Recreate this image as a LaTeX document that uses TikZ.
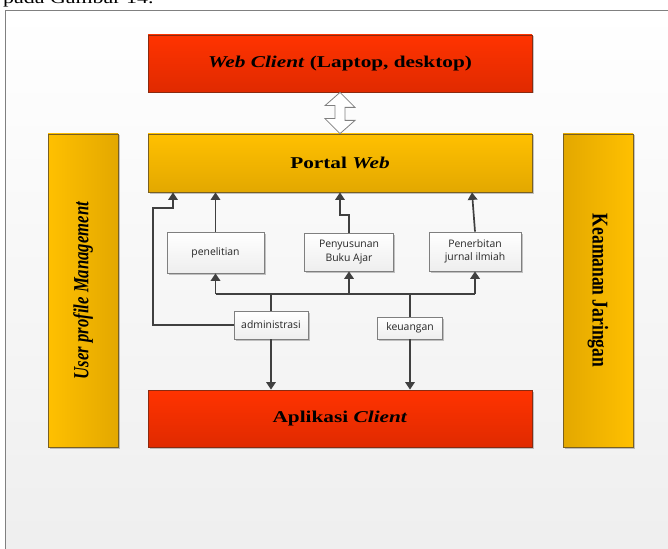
\documentclass[tikz,border=0pt]{standalone}
\usepackage{fontspec}
\setmainfont{Liberation Serif}
\newfontfamily\boxfont{Open Sans}
\usetikzlibrary{arrows.meta,shadows,calc}

\definecolor{redtop}{HTML}{FF3300}
\definecolor{redbot}{HTML}{E02A00}
\definecolor{redline}{HTML}{8A2A10}
\definecolor{goldtop}{HTML}{FFC000}
\definecolor{goldbot}{HTML}{E3A800}
\definecolor{goldline}{HTML}{7A6020}
\definecolor{linkgray}{HTML}{404040}
\definecolor{boxline}{HTML}{7F7F7F}
\definecolor{paper}{HTML}{EEEEEE}

% serif headings are set slightly wide
\newcommand{\widetext}[1]{\scalebox{1.29}[1]{#1}}

\begin{document}
\begin{tikzpicture}[x=1pt,y=-1pt,
  softshadow/.style={drop shadow={shadow xshift=1.5pt,shadow yshift=-1.5pt,opacity=0.22,fill=black}},
  redbox/.style={draw=redline,line width=0.8pt,top color=redtop,bottom color=redbot,
    minimum width=384pt,minimum height=57pt,inner sep=0pt,softshadow,
    font=\bfseries\fontsize{16.5}{18}\selectfont},
  goldbox/.style={draw=goldline,line width=0.8pt,top color=goldtop,bottom color=goldbot,
    minimum width=384pt,minimum height=58pt,inner sep=0pt,softshadow,
    font=\bfseries\fontsize{16.5}{18}\selectfont},
  sidebar/.style={draw=goldline,line width=0.8pt,minimum width=70pt,minimum height=313pt,
    inner sep=0pt,softshadow},
  taskbox/.style={draw=boxline,line width=0.7pt,top color=white,bottom color=paper,
    inner sep=0pt,align=center,softshadow,text=black!85,
    font=\boxfont\fontsize{10.4}{13.5}\selectfont},
  wire/.style={draw=linkgray,line width=1.7pt},
  wirearrow/.style={wire,-{Triangle[length=7.5pt,width=9.5pt]}}
]
\useasboundingbox (0,0) rectangle (668,548);

% page and frame
\fill[white] (0,0) rectangle (668,548);
\draw[draw=gray,line width=0.8pt,top color=white,bottom color=paper] (5,10) rectangle (690,570);
\node[anchor=base west,inner sep=0pt,font=\fontsize{17}{20}\selectfont] (caption) at (3,4) {\widetext{pada Gambar 14.}};

% main layers
\node[redbox] (web) at (340,63.5) {\widetext{\textit{Web Client} (Laptop, desktop)}};
\node[goldbox] (portal) at (340,163) {\widetext{Portal \textit{Web}}};
\node[redbox] (app) at (340,418.5) {\widetext{Aplikasi \textit{Client}}};

% side bars
\node[sidebar,left color=goldtop,right color=goldbot] (user) at (83,290.5)
  {\scalebox{1.29}[1]{\rotatebox{90}{\bfseries\itshape\fontsize{16.7}{18}\selectfont User profile Management}}};
\node[sidebar,left color=goldbot,right color=goldtop] (sec) at (598,290.5)
  {\scalebox{1.29}[1]{\rotatebox{-90}{\bfseries\fontsize{17.5}{18}\selectfont Keamanan Jaringan}}};

% two-way link between client and portal
\draw[draw=gray,line width=0.8pt,fill=white]
  (web.south) -- ++(15,15) -- ++(-10,0) -- ++(0,13) -- ++(10,0)
  -- (portal.north) -- ++(-15,-15) -- ++(10,0) -- ++(0,-13) -- ++(-10,0) -- cycle;

% service boxes
\node[taskbox,minimum width=97pt,minimum height=41pt] (pen) at (215.5,252.5) {penelitian};
\node[taskbox,minimum width=89pt,minimum height=38pt] (buku) at (349,252) {Penyusunan\\Buku Ajar};
\node[taskbox,minimum width=92pt,minimum height=39pt] (jur) at (475,251.5) {Penerbitan\\jurnal ilmiah};
\node[taskbox,minimum width=74pt,minimum height=28pt] (adm) at (271,325) {administrasi};
\node[taskbox,minimum width=65pt,minimum height=22pt] (kue) at (410,328) {keuangan};

% routing points
\coordinate (busy) at (0,294);
\coordinate (bkbend) at (340,215);
\coordinate (loopcorner) at (153,208);

% services up to the portal
\draw[wirearrow] (pen.north) -- (pen.north |- portal.south);
\draw[wirearrow] (buku.north) |- (bkbend) -- (bkbend |- portal.south);
\draw[wirearrow] (jur.north) -- ([xshift=132pt]portal.south);
\draw[wirearrow] (adm.west) -| (loopcorner) -| ([xshift=-167pt]portal.south);

% shared bus from administrasi and keuangan
\draw[wire] (pen.south |- busy) -- (jur.south |- busy);
\draw[wire] (adm.north) -- (adm.north |- busy);
\draw[wire] (kue.north) -- (kue.north |- busy);
\draw[wirearrow] (pen.south |- busy) -- (pen.south);
\draw[wirearrow] (buku.south |- busy) -- (buku.south);
\draw[wirearrow] (jur.south |- busy) -- (jur.south);

% down to the client application
\draw[wirearrow] (adm.south) -- (adm.south |- app.north);
\draw[wirearrow] (kue.south) -- (kue.south |- app.north);
\end{tikzpicture}
\end{document}
